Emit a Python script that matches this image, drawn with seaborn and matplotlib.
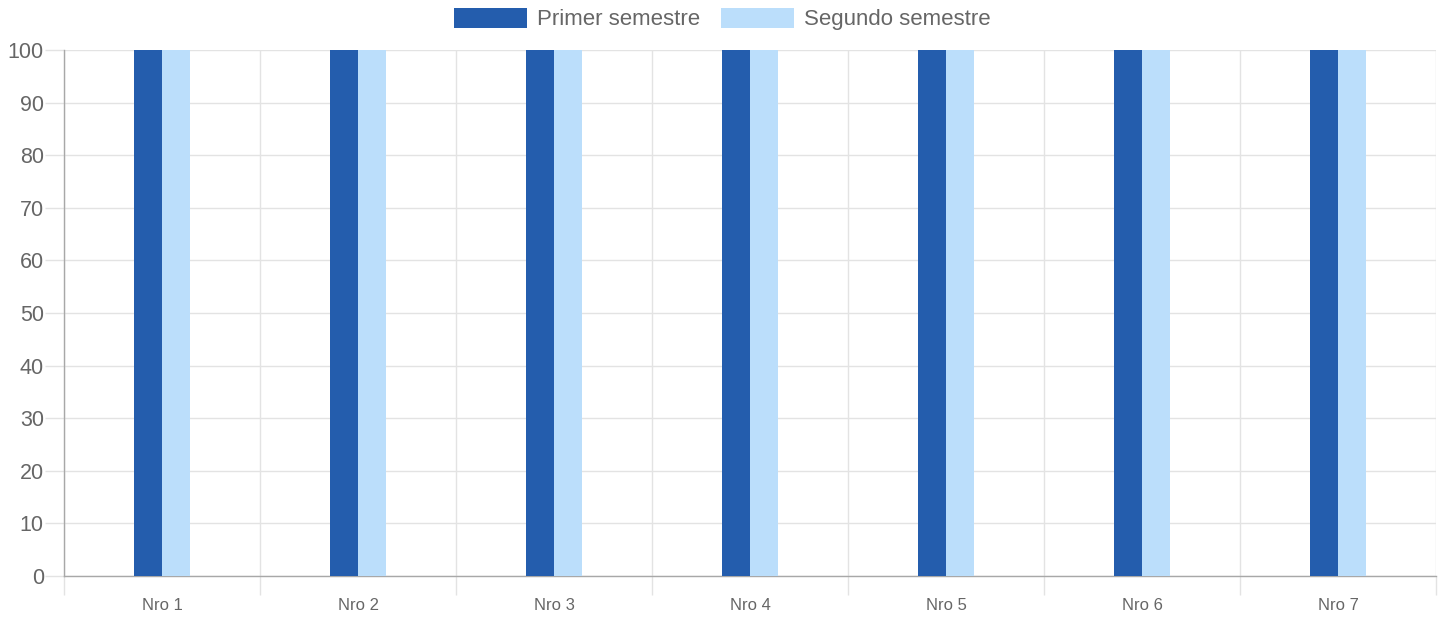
import matplotlib
matplotlib.use("Agg")
import matplotlib.pyplot as plt
import seaborn as sns
import pandas as pd

categories = ["Nro 1", "Nro 2", "Nro 3", "Nro 4", "Nro 5", "Nro 6", "Nro 7"]
primer_semestre = [100, 100, 100, 100, 100, 100, 100]
segundo_semestre = [100, 100, 100, 100, 100, 100, 100]
series_names = ["Primer semestre", "Segundo semestre"]
y_ticks = [0, 10, 20, 30, 40, 50, 60, 70, 80, 90, 100]

colors = ["#245DAD", "#BBDEFB"]
text_color = "#666666"
grid_color = "#E3E3E3"
axis_color = "#A8A8A8"

sns.set_style("white")
plt.rcParams["font.family"] = ["Liberation Sans", "DejaVu Sans"]

df = pd.DataFrame({
    "categoria": categories * 2,
    "valor": primer_semestre + segundo_semestre,
    "serie": [series_names[0]] * len(categories) + [series_names[1]] * len(categories),
})

fig = plt.figure(figsize=(14.49, 6.19), dpi=100)
ax = fig.add_axes([64 / 1449, 43 / 619, (1436 - 64) / 1449, (576 - 50) / 619])

sns.barplot(data=df, x="categoria", y="valor", hue="serie", palette=colors,
            width=0.286, saturation=1, linewidth=0, edgecolor="none", ax=ax, zorder=3)

handles, labels = ax.get_legend_handles_labels()
if ax.get_legend() is not None:
    ax.get_legend().remove()

ax.set_xlim(-0.5, len(categories) - 0.5)
ax.set_ylim(0, 100)
ax.set_yticks(y_ticks)
ax.set_xlabel("")
ax.set_ylabel("")

# vertical grid lines sit on the category boundaries
bounds = [i - 0.5 for i in range(len(categories) + 1)]
ax.set_xticks(bounds, minor=True)
ax.grid(True, axis="x", which="minor", color=grid_color, linewidth=1, zorder=0)
ax.grid(True, axis="y", which="major", color=grid_color, linewidth=1, zorder=0)
ax.grid(False, axis="x", which="major")

ax.tick_params(axis="x", which="major", bottom=False, length=0, pad=16, labelsize=12,
               labelcolor=text_color)
ax.tick_params(axis="x", which="minor", bottom=True, length=13.5, width=1, color=grid_color,
               direction="out")
ax.tick_params(axis="y", which="major", left=True, length=13.5, width=1, color=grid_color, pad=1,
               labelsize=15.5, labelcolor=text_color, direction="out")

for side in ["top", "right"]:
    ax.spines[side].set_visible(False)
for side in ["left", "bottom"]:
    ax.spines[side].set_color(axis_color)
    ax.spines[side].set_linewidth(1)
ax.set_axisbelow(True)

fig.legend(handles, labels, loc="upper center", bbox_to_anchor=(0.4985, 1.02), ncol=2,
           frameon=False, fontsize=16, handlelength=3.3, handleheight=1.0,
           handletextpad=0.45, columnspacing=0.9, labelcolor=text_color)

fig.savefig("out.png", dpi=100, facecolor="white")
